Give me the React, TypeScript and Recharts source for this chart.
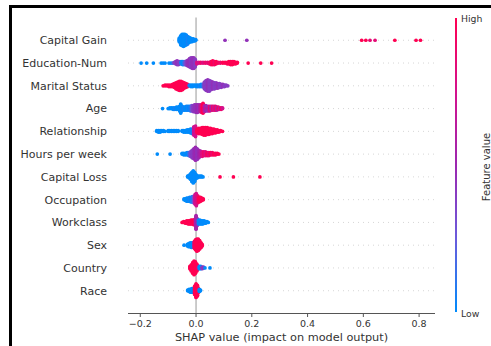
import React from 'react';
import { ScatterChart, Scatter, XAxis, YAxis, ReferenceLine } from 'recharts';

const features = [
  'Capital Gain', 'Education-Num', 'Marital Status', 'Age', 'Relationship', 'Hours per week',
  'Capital Loss', 'Occupation', 'Workclass', 'Sex', 'Country', 'Race',
];
const xTicks = [-0.2, 0, 0.2, 0.4, 0.6, 0.8];

// each entry: [shap value, feature value (0 low .. 1 high), number of samples]
type Entry = [number, number, number];

const capitalGain: Entry[] = [
  [-0.060, 0, 6], [-0.055, 0, 13], [-0.050, 0, 16], [-0.045, 0, 17], [-0.040, 0, 16], [-0.035, 0, 14],
  [-0.030, 0.05, 11], [-0.025, 0, 8], [-0.020, 0, 6], [-0.015, 0, 5], [-0.010, 0, 4], [-0.005, 0, 3],
  [-0.001, 0, 2], [0.104, 0.45, 1], [0.182, 0.45, 1], [0.594, 1, 1], [0.609, 1, 1], [0.624, 0.85, 1],
  [0.642, 0.85, 1], [0.713, 1, 1], [0.789, 1, 1], [0.805, 1, 1],
];
const educationNum: Entry[] = [
  [-0.197, 0, 1], [-0.177, 0, 1], [-0.153, 0, 1], [-0.125, 0, 1], [-0.118, 0, 1], [-0.111, 0, 1],
  [-0.097, 0, 1], [-0.090, 0, 1], [-0.084, 0.1, 1],
  [-0.078, 0.4, 2], [-0.073, 0.4, 4], [-0.068, 0.45, 6], [-0.063, 0.4, 5], [-0.058, 0.4, 4],
  [-0.053, 0.05, 4], [-0.048, 0, 5], [-0.043, 0.1, 5], [-0.038, 0.3, 5],
  [-0.033, 0.4, 7], [-0.028, 0.45, 9], [-0.023, 0.45, 12], [-0.018, 0.4, 14], [-0.013, 0.45, 15],
  [-0.008, 0.45, 15], [-0.003, 0.4, 11],
  [0.003, 0.8, 3], [0.010, 0.75, 2], [0.017, 0.9, 2], [0.025, 0.8, 2], [0.033, 0.9, 2], [0.041, 0.85, 2],
  [0.048, 0.9, 3], [0.054, 0.95, 5], [0.060, 1, 6], [0.066, 0.9, 5], [0.072, 1, 4], [0.079, 0.95, 2],
  [0.087, 0.9, 2], [0.096, 1, 2], [0.104, 1, 2], [0.112, 1, 3], [0.118, 1, 4], [0.124, 1, 5],
  [0.130, 1, 5], [0.136, 1, 4], [0.142, 1, 3], [0.148, 1, 2], [0.187, 1, 1], [0.232, 1, 1], [0.271, 1, 1],
];
const maritalStatus: Entry[] = [
  [-0.118, 1, 1], [-0.111, 1, 2], [-0.104, 1, 2], [-0.097, 1, 3], [-0.090, 1, 3], [-0.084, 1, 4],
  [-0.078, 1, 6], [-0.072, 1, 9], [-0.066, 1, 11], [-0.060, 1, 13], [-0.054, 1, 13], [-0.048, 1, 11],
  [-0.042, 1, 8], [-0.036, 1, 6], [-0.030, 1, 4],
  [-0.024, 0.05, 2], [-0.018, 0, 3], [-0.012, 0, 3], [-0.006, 0, 2], [0.000, 0, 3], [0.006, 0, 3],
  [0.012, 0.05, 3], [0.018, 0, 4], [0.024, 0.1, 4],
  [0.030, 0.4, 10], [0.036, 0.4, 14], [0.042, 0.45, 16], [0.048, 0.4, 15], [0.054, 0.4, 12],
  [0.060, 0.45, 10], [0.066, 0.4, 9], [0.072, 0.4, 8], [0.078, 0.45, 7], [0.084, 0.4, 6],
  [0.090, 0.4, 5], [0.096, 0.45, 4], [0.102, 0.4, 3], [0.108, 0.4, 2], [0.114, 0.4, 1],
];
const age: Entry[] = [
  [-0.120, 0, 1], [-0.100, 0, 1], [-0.094, 0, 2], [-0.088, 0, 2], [-0.082, 0, 3], [-0.076, 0.05, 3],
  [-0.070, 0, 4], [-0.064, 0, 4], [-0.059, 0, 7], [-0.055, 0, 13], [-0.050, 0, 6], [-0.045, 0.05, 5],
  [-0.040, 0, 5], [-0.035, 0, 6], [-0.030, 0.05, 6], [-0.025, 0, 6], [-0.020, 0.1, 7], [-0.015, 0.3, 8],
  [-0.010, 0.4, 9], [-0.005, 0.45, 10], [0.000, 0.45, 11], [0.005, 0.5, 11], [0.010, 0.45, 10],
  [0.015, 0.6, 10], [0.020, 0.85, 11], [0.025, 1, 14], [0.030, 0.7, 9], [0.035, 0.5, 8],
  [0.040, 0.8, 4], [0.040, 0.45, 3], [0.045, 0.6, 7], [0.050, 0.85, 7], [0.055, 0.55, 6], [0.060, 0.9, 6],
  [0.065, 0.7, 6], [0.070, 0.9, 6], [0.075, 0.6, 5], [0.080, 0.9, 4], [0.085, 0.7, 3], [0.090, 0.9, 3],
  [0.095, 0.75, 2],
];
const relationship: Entry[] = [
  [-0.141, 0, 2], [-0.135, 0, 3], [-0.129, 0, 3], [-0.123, 0, 2], [-0.117, 0, 2], [-0.111, 0, 1],
  [-0.100, 0, 2], [-0.094, 0, 2], [-0.088, 0, 2], [-0.082, 0, 2], [-0.076, 0, 2], [-0.070, 0, 2],
  [-0.064, 0, 2], [-0.050, 0, 2], [-0.044, 0, 3], [-0.038, 0, 3], [-0.032, 0, 4], [-0.026, 0, 4],
  [-0.020, 0, 6], [-0.014, 0.05, 7],
  [-0.008, 0.7, 12], [-0.002, 0.75, 15],
  [0.004, 1, 6], [0.010, 1, 8], [0.016, 1, 8], [0.022, 1, 10], [0.028, 1, 11], [0.034, 1, 11],
  [0.040, 1, 10], [0.046, 1, 9], [0.052, 1, 8], [0.058, 1, 7], [0.064, 1, 6], [0.070, 1, 5],
  [0.076, 1, 4], [0.082, 1, 3], [0.088, 1, 2], [0.095, 1, 1],
];
const hoursPerWeek: Entry[] = [
  [-0.139, 0, 1], [-0.093, 0, 1], [-0.050, 0, 2], [-0.044, 0, 3], [-0.038, 0, 3], [-0.032, 0, 4],
  [-0.026, 0.1, 5],
  [-0.020, 0.35, 7], [-0.014, 0.4, 11], [-0.008, 0.45, 14], [-0.002, 0.5, 18], [0.004, 0.45, 15],
  [0.010, 0.5, 11], [0.016, 0.6, 8],
  [0.022, 0.8, 7], [0.028, 0.9, 6], [0.034, 0.8, 6], [0.040, 0.95, 5], [0.046, 0.85, 5], [0.052, 1, 4],
  [0.058, 0.9, 4], [0.064, 1, 3], [0.070, 0.95, 3], [0.076, 1, 2], [0.082, 1, 1],
];
const capitalLoss: Entry[] = [
  [-0.030, 0, 2], [-0.025, 0, 4], [-0.020, 0, 8], [-0.015, 0, 13], [-0.010, 0, 17], [-0.005, 0, 13],
  [0.000, 0, 6], [0.005, 0, 3], [0.010, 0, 2], [0.015, 0, 2], [0.020, 0, 2], [0.025, 0, 1],
  [0.086, 1, 1], [0.134, 1, 1], [0.229, 1, 1],
];
const occupation: Entry[] = [
  [-0.043, 0, 2], [-0.038, 0, 3], [-0.033, 0, 5], [-0.028, 0, 5], [-0.023, 0.05, 6], [-0.018, 0, 7],
  [-0.013, 0.1, 8], [-0.008, 0.3, 9], [-0.003, 0.7, 14], [0.001, 0.75, 17], [0.006, 0.85, 10],
  [0.011, 1, 7], [0.016, 1, 6], [0.021, 1, 4], [0.026, 1, 2],
];
const workclass: Entry[] = [
  [-0.050, 1, 1], [-0.044, 1, 2], [-0.038, 1, 3], [-0.033, 1, 4], [-0.028, 1, 5], [-0.023, 1, 5],
  [-0.018, 1, 6], [-0.013, 1, 6], [-0.008, 1, 7], [-0.004, 0.9, 8], [0.000, 0.55, 19], [0.004, 0.5, 10],
  [0.009, 0, 6], [0.014, 0, 6], [0.019, 0, 5], [0.024, 0, 5], [0.029, 0, 4], [0.034, 0, 3],
  [0.039, 0, 2], [0.044, 0, 1],
];
const sex: Entry[] = [
  [-0.043, 0, 1], [-0.031, 0, 3], [-0.026, 0, 5], [-0.021, 0, 6], [-0.016, 0, 7], [-0.011, 0, 6],
  [-0.006, 0.9, 10], [-0.002, 1, 14], [0.003, 1, 17], [0.008, 1, 16], [0.013, 1, 12], [0.018, 1, 7],
  [0.022, 1, 3],
];
const country: Entry[] = [
  [-0.022, 1, 4], [-0.017, 1, 9], [-0.012, 1, 15], [-0.007, 1, 19], [-0.002, 1, 16], [0.003, 1, 10],
  [0.008, 0.9, 4], [0.012, 0, 4], [0.017, 0, 4], [0.022, 0.4, 3], [0.027, 0.45, 2], [0.032, 0, 1],
  [0.050, 0, 1],
];
const race: Entry[] = [
  [-0.030, 0, 2], [-0.025, 0, 4], [-0.020, 0, 5], [-0.015, 0, 6], [-0.010, 0, 6], [-0.005, 1, 12],
  [0.000, 1, 19], [0.005, 1, 15], [0.009, 1, 6], [0.012, 0, 4], [0.016, 0, 2],
];

const rows = [capitalGain, educationNum, maritalStatus, age, relationship, hoursPerWeek,
  capitalLoss, occupation, workclass, sex, country, race];

// shap red_blue colour map, low -> high
const cmap: [number, number[]][] = [
  [0, [0, 139, 251]],
  [0.25, [106, 91, 220]],
  [0.5, [156, 39, 176]],
  [0.75, [212, 17, 140]],
  [1, [255, 0, 82]],
];

function colour(v: number) {
  for (let i = 1; i < cmap.length; i++) {
    if (v <= cmap[i][0]) {
      const [a, ca] = cmap[i - 1];
      const [b, cb] = cmap[i];
      const t = (v - a) / (b - a);
      const c = ca.map((k, j) => Math.round(k + (cb[j] - k) * t));
      return `rgb(${c[0]},${c[1]},${c[2]})`;
    }
  }
  return 'rgb(255,0,82)';
}

// beeswarm: samples sharing a value are stacked alternately above / below the row
const LAYER = 0.033;
const points = rows.flatMap((entries, i) => {
  const seen = new Map<number, number>();
  const out: { x: number; y: number; c: string }[] = [];
  entries.forEach(([x, fv, n]) => {
    for (let k = 0; k < n; k++) {
      const layer = seen.get(x) ?? 0;
      seen.set(x, layer + 1);
      const off = Math.ceil(layer / 2) * (layer % 2 ? 1 : -1);
      out.push({ x, y: features.length - 1 - i + off * LAYER, c: colour(fv) });
    }
  });
  return out;
});

const font = 'DejaVu Sans, sans-serif';
const fmtX = (v: number) => (v === 0 ? '0.0' : (v < 0 ? '\u2212' : '') + Math.abs(v).toFixed(1));

const Dot = (p: any) => <circle cx={p.cx} cy={p.cy} r={1.85} fill={p.payload.c} />;

export default function App() {
  const rowTicks = features.map((_, i) => i);
  return (
    <div style={{ position: 'fixed', left: 0, top: 0, width: 491, height: 346, background: '#fff', overflow: 'hidden', fontFamily: font }}>
      <div style={{ position: 'absolute', left: 0, top: 0 }}>
        <ScatterChart width={491} height={346} margin={{ top: 17.5, right: 56, bottom: 0, left: 0 }}>
          <XAxis
            type="number"
            dataKey="x"
            domain={[-0.244, 0.857]}
            ticks={xTicks}
            interval={0}
            tickFormatter={fmtX}
            height={32.5}
            tickSize={3.5}
            tickMargin={3.5}
            stroke="#555"
            tick={{ fontSize: 9.5, fill: '#333', fontFamily: font }}
            label={{ value: 'SHAP value (impact on model output)', position: 'insideBottom', offset: 5, fontSize: 11.3, fill: '#333', fontFamily: font }}
          />
          <YAxis
            type="number"
            dataKey="y"
            domain={[-1, 12]}
            ticks={rowTicks}
            interval={0}
            width={128}
            axisLine={false}
            tickLine={false}
            tickSize={0}
            tickMargin={21}
            tickFormatter={(v: number) => features[features.length - 1 - v]}
            tick={{ fontSize: 11, fill: '#333', fontFamily: font }}
          />
          {rowTicks.map((k) => (
            <ReferenceLine key={k} y={k} stroke="#cccccc" strokeWidth={0.8} strokeDasharray="1 4" />
          ))}
          <ReferenceLine x={0} stroke="#999999" strokeWidth={1} />
          <Scatter data={points} isAnimationActive={false} shape={Dot} />
        </ScatterChart>
      </div>
      <div style={{
        position: 'absolute', left: 455, top: 18, width: 2, height: 294,
        background: 'linear-gradient(to top, #008bfb 0%, #6a5bdc 25%, #9c27b0 50%, #d4118c 75%, #ff0052 100%)',
      }} />
      <div style={{ position: 'absolute', left: 461, top: 13, fontSize: 9.3, lineHeight: '12px', color: '#333' }}>High</div>
      <div style={{ position: 'absolute', left: 461, top: 308, fontSize: 9.3, lineHeight: '12px', color: '#333' }}>Low</div>
      <div style={{
        position: 'absolute', left: 437, top: 161, width: 100, height: 12, lineHeight: '12px', fontSize: 10,
        textAlign: 'center', color: '#333', transform: 'rotate(-90deg)', whiteSpace: 'nowrap',
      }}>Feature value</div>
      <div style={{ position: 'absolute', left: 9, top: 5, width: 482, height: 2.5, background: '#000' }} />
      <div style={{ position: 'absolute', left: 9, top: 5, width: 3, height: 341, background: '#000' }} />
    </div>
  );
}
